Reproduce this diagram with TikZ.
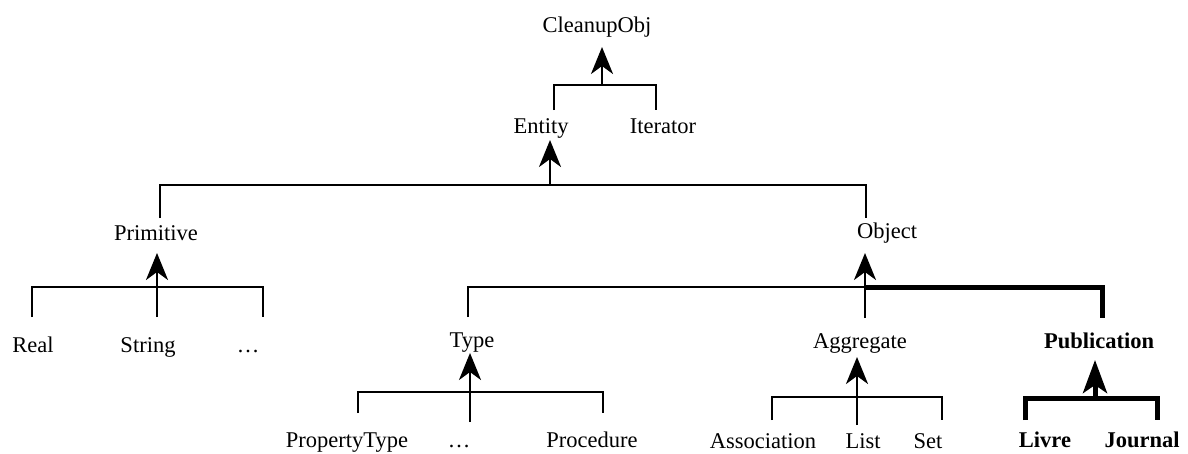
\documentclass[tikz,border=0pt]{standalone}
\usepackage{fontspec}
\setmainfont{Liberation Serif}
\usetikzlibrary{arrows.meta}
\tikzset{
  lbl/.style={anchor=base, inner sep=0pt, font=\fontsize{22.5}{27}\selectfont},
  blbl/.style={anchor=base, inner sep=0pt, font=\fontsize{22.5}{27}\selectfont\bfseries},
  link/.style={line width=2.6pt, line join=miter},
  heavy/.style={line width=5pt, line join=miter},
  isa/.style={link, -{Stealth[length=27pt,width=22pt,inset=8pt]}},
  heavyisa/.style={heavy, -{Stealth[length=33pt,width=24pt,inset=8pt]}}
}
\begin{document}
\begin{tikzpicture}[x=1pt,y=-1pt]
\useasboundingbox (0,0) rectangle (1188,453);
% nodes
\node[lbl] (cleanup) at (597,32) {CleanupObj};
\node[lbl] (entity) at (541,133) {Entity};
\node[lbl] (iterator) at (663,133) {Iterator};
\node[lbl] (primitive) at (156,240) {Primitive};
\node[lbl] (object) at (887,238) {Object};
\node[lbl] (real) at (33,352) {Real};
\node[lbl] (string) at (148,352) {String};
\node[lbl] (dotsa) at (248,352) {\dots};
\node[lbl] (type) at (472,347) {Type};
\node[lbl] (aggregate) at (860,348) {Aggregate};
\node[blbl] (publication) at (1099,348) {Publication};
\node[lbl] (proptype) at (347,447) {PropertyType};
\node[lbl] (dotsb) at (459,447) {\dots};
\node[lbl] (procedure) at (592,447) {Procedure};
\node[lbl] (association) at (763,448) {Association};
\node[lbl] (list) at (863,448) {List};
\node[lbl] (set) at (928,448) {Set};
\node[blbl] (livre) at (1045,447) {Livre};
\node[blbl] (journal) at (1142,447) {Journal};
% coordinates
\coordinate (c-tip) at (602,47);
\coordinate (c-bar) at (602,85);
\coordinate (en-top) at (554,110);
\coordinate (it-top) at (656,110);
\coordinate (e-tip) at (550,140);
\coordinate (e-bar) at (550,185);
\coordinate (pr-top) at (160,218);
\coordinate (ob-top) at (866,218);
\coordinate (p-tip) at (157,253);
\coordinate (p-bar) at (157,287);
\coordinate (re-top) at (32,317);
\coordinate (st-top) at (157,317);
\coordinate (d1-top) at (263,317);
\coordinate (o-tip) at (865,253);
\coordinate (o-bar) at (865,287);
\coordinate (ty-top) at (468,317);
\coordinate (ag-top) at (865,318);
\coordinate (pu-top) at (1102,318);
\coordinate (t-tip) at (470,353);
\coordinate (t-bar) at (470,392);
\coordinate (pt-top) at (358,413);
\coordinate (d2-top) at (470,422);
\coordinate (pc-top) at (603,413);
\coordinate (a-tip) at (857,357);
\coordinate (a-bar) at (857,397);
\coordinate (as-top) at (772,420);
\coordinate (li-top) at (857,425);
\coordinate (se-top) at (942,420);
\coordinate (pb-tip) at (1095,360);
\coordinate (pb-bar) at (1095,398);
\coordinate (lv-top) at (1025,420);
\coordinate (jo-top) at (1157,420);
% connectors
\draw[link] (en-top) |- (c-bar) -| (it-top);
\draw[isa] (c-bar) -- (c-tip);
\draw[link] (pr-top) |- (e-bar) -| (ob-top);
\draw[isa] (e-bar) -- (e-tip);
\draw[link] (re-top) |- (p-bar) -| (d1-top);
\draw[isa] (st-top) -- (p-tip);
\draw[link] (ty-top) |- (o-bar);
\draw[heavy] (o-bar) -| (pu-top);
\draw[isa] (ag-top) -- (o-tip);
\draw[link] (pt-top) |- (t-bar) -| (pc-top);
\draw[isa] (d2-top) -- (t-tip);
\draw[link] (as-top) |- (a-bar) -| (se-top);
\draw[isa] (li-top) -- (a-tip);
\draw[heavy] (lv-top) |- (pb-bar) -| (jo-top);
\draw[heavyisa] (pb-bar) -- (pb-tip);
\end{tikzpicture}
\end{document}
